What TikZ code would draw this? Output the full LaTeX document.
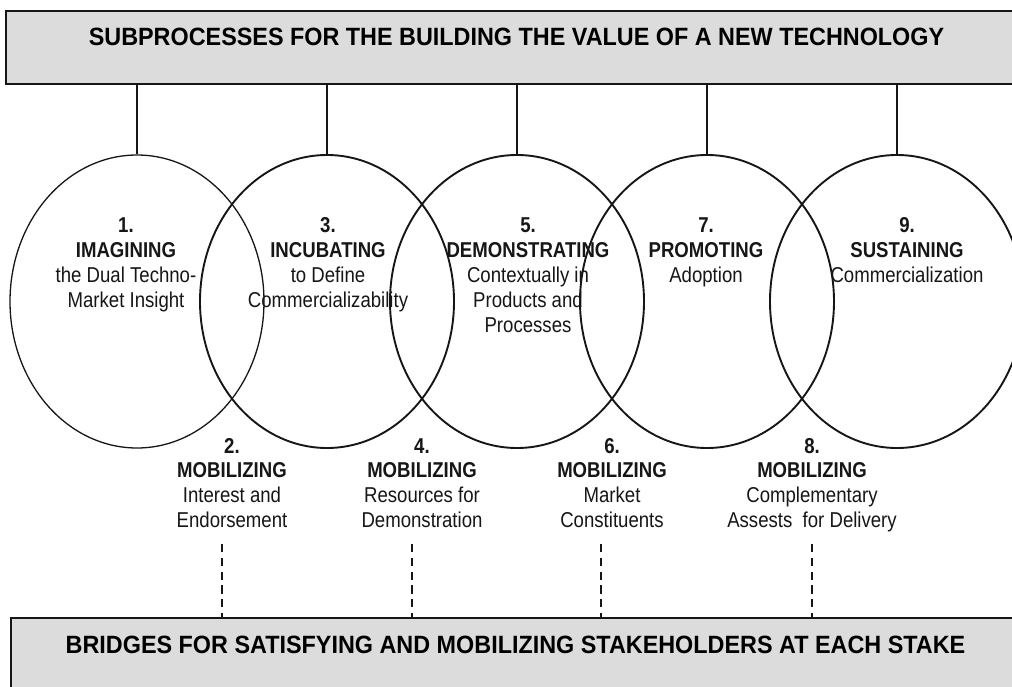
\documentclass[tikz,border=0pt]{standalone}
\usepackage{fontspec}
\setmainfont{Liberation Sans}[FakeStretch=0.865]
\newfontfamily\headfont{Liberation Sans}[FakeStretch=0.935]
\usetikzlibrary{shapes.geometric}

\definecolor{panelgray}{RGB}{220,220,220}
\definecolor{ink}{RGB}{22,22,22}

% stacked, centred label whose baseline is that of its first line
\newcommand\stagetext[1]{{\fontsize{21.5}{24.8}\selectfont
  \begin{tabular}[t]{@{}c@{}}#1\end{tabular}}}

\tikzset{
  panel/.style={draw=ink, line width=2pt, fill=panelgray, inner sep=0pt,
    rectangle, anchor=north west},
  paneltitle/.style={anchor=base, inner sep=0pt, text=black,
    font=\headfont\bfseries\fontsize{25}{29}\selectfont},
  stage/.style={draw=ink, line width=1.9pt, ellipse, inner sep=0pt,
    minimum width=254pt, minimum height=293pt},
  firststage/.style={stage, line width=1.3pt},
  label/.style={anchor=base, inner sep=0pt, text=ink},
  stem/.style={draw=ink, line width=1.6pt},
  bridge/.style={draw=ink, line width=1.6pt, dash pattern=on 8.2pt off 5.6pt},
}

\begin{document}
\begin{tikzpicture}[x=1pt,y=-1pt]
\useasboundingbox (0,0) rectangle (1012,687);
\clip (0,0) rectangle (1012,687);

% header and footer panels
\node[panel, minimum width=1040pt, minimum height=73pt] (top) at (5,10) {};
\node[paneltitle] (toptitle) at (516.5,46)
  {SUBPROCESSES FOR THE BUILDING THE VALUE OF A NEW TECHNOLOGY};
\node[panel, minimum width=1040pt, minimum height=100pt] (bottom) at (10,617) {};
\node[paneltitle] (bottomtitle) at (515.5,653)
  {BRIDGES FOR SATISFYING AND MOBILIZING STAKEHOLDERS AT EACH STAKE};

% the five overlapping subprocess ellipses
\node[firststage] (c1) at (137,301.5) {};
\node[stage] (c3) at (327,301.5) {};
\node[stage] (c5) at (517,301.5) {};
\node[stage] (c7) at (707,301.5) {};
\node[stage] (c9) at (897,301.5) {};

\foreach \c in {c1,c3,c5,c7,c9}
  \draw[stem] (\c.north) -- (\c.north |- top.south);

% subprocess labels
\node[label] (l1) at (126,233) {\stagetext{\textbf{1.}\\\textbf{IMAGINING}\\the Dual Techno-\\Market Insight}};
\node[label] (l3) at (328,233) {\stagetext{\textbf{3.}\\\textbf{INCUBATING}\\to Define\\Commercializability}};
\node[label] (l5) at (528,233) {\stagetext{\textbf{5.}\\\textbf{DEMONSTRATING}\\Contextually in\\Products and\\Processes}};
\node[label] (l7) at (706,233) {\stagetext{\textbf{7.}\\\textbf{PROMOTING}\\Adoption}};
\node[label] (l9) at (907,233) {\stagetext{\textbf{9.}\\\textbf{SUSTAINING}\\Commercialization}};

% mobilizing labels between the ellipses
\node[label] (m2) at (232,453) {\stagetext{\textbf{2.}\\\textbf{MOBILIZING}\\Interest and\\Endorsement}};
\node[label] (m4) at (422,453) {\stagetext{\textbf{4.}\\\textbf{MOBILIZING}\\Resources for\\Demonstration}};
\node[label] (m6) at (612,453) {\stagetext{\textbf{6.}\\\textbf{MOBILIZING}\\Market\\Constituents}};
\node[label] (m8) at (812,453) {\stagetext{\textbf{8.}\\\textbf{MOBILIZING}\\Complementary\\Assests~~for Delivery}};

% dashed bridges down to the footer panel
\coordinate (d2) at (222,544);
\coordinate (d4) at (412,544);
\coordinate (d6) at (601,544);
\coordinate (d8) at (812,544);
\foreach \d in {d2,d4,d6,d8}
  \draw[bridge] (\d) -- (\d |- bottom.north);
\end{tikzpicture}
\end{document}
